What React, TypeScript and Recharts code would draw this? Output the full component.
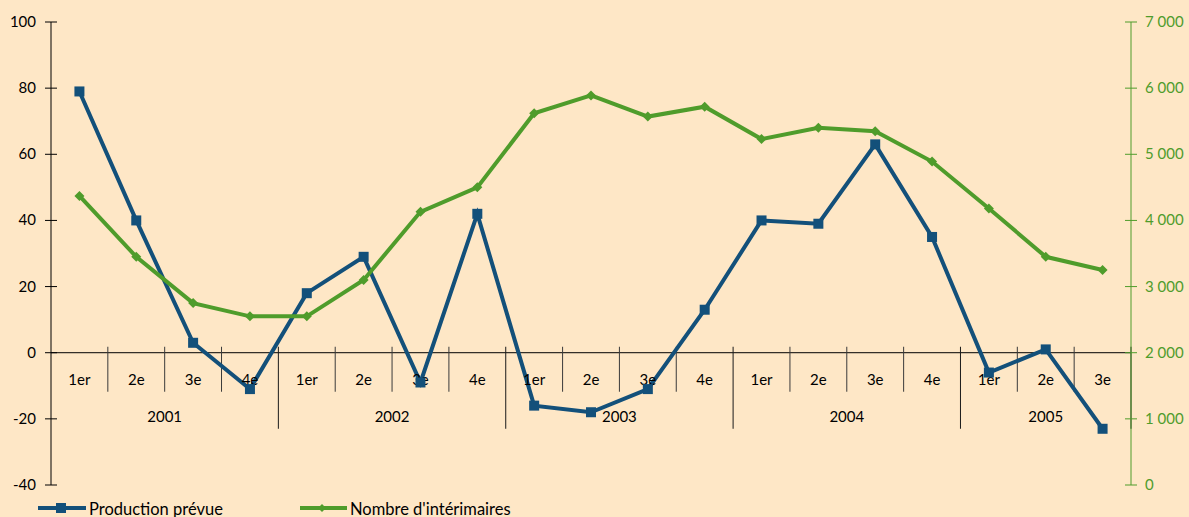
import React from 'react';
import { ComposedChart, Line, XAxis, YAxis, ReferenceLine, ReferenceDot, Legend } from 'recharts';

// trimestres 2001 T1 -> 2005 T3
const quarters = ['1er', '2e', '3e', '4e', '1er', '2e', '3e', '4e', '1er', '2e', '3e', '4e', '1er', '2e', '3e', '4e', '1er', '2e', '3e'];
const yearLabels = ['2001', '2002', '2003', '2004', '2005'];
const yearFirst = [0, 4, 8, 12, 16];
const yearLast = [3, 7, 11, 15, 18];

const production = [79, 40, 3, -11, 18, 29, -9, 42, -16, -18, -11, 13, 40, 39, 63, 35, -6, 1, -23];
const interimaires = [4370, 3450, 2750, 2550, 2550, 3100, 4130, 4500, 5620, 5890, 5570, 5720, 5230, 5400, 5350, 4890, 4180, 3450, 3250];

const leftTicks = [-40, -20, 0, 20, 40, 60, 80, 100];
const rightTicks = [0, 1000, 2000, 3000, 4000, 5000, 6000, 7000];

const BLUE = '#13507a';
const GREEN = '#4f9c2b';
const GREEN_TEXT = '#4f9c2c';
const BG = '#fee7c6';
const FONT = 'Lato, "DejaVu Sans", sans-serif';

const data = quarters.map((q, i) => ({
  idx: i,
  quarter: q,
  production: production[i],
  interimaires: interimaires[i],
}));

const fmtThousands = (v: number) => String(v).replace(/\B(?=(\d{3})+(?!\d))/g, ' ');

const LeftTick = (props: any) => {
  const { x, y, payload } = props;
  return (
    <g>
      <line x1={x + 9} x2={x + 21} y1={y} y2={y} stroke="#000" strokeWidth={1} />
      <text x={x} y={y} dy={5} textAnchor="end" fontFamily={FONT} fontSize={15} fill="#000">
        {payload.value}
      </text>
    </g>
  );
};

const RightTick = (props: any) => {
  const { x, y, payload } = props;
  return (
    <g>
      <line x1={x - 20} x2={x - 8} y1={y} y2={y} stroke={GREEN} strokeWidth={1} />
      <text x={x} y={y} dy={5} textAnchor="start" fontFamily={FONT} fontSize={15} fill={GREEN_TEXT}>
        {fmtThousands(payload.value)}
      </text>
    </g>
  );
};

const SquareDot = (props: any) => {
  const { cx, cy, index } = props;
  if (cx == null || cy == null) return <g key={index} />;
  return <rect key={index} x={cx - 5} y={cy - 5} width={10} height={10} fill={BLUE} />;
};

const DiamondDot = (props: any) => {
  const { cx, cy, index } = props;
  if (cx == null || cy == null) return <g key={index} />;
  return (
    <polygon
      key={index}
      points={`${cx},${cy - 5} ${cx + 5},${cy} ${cx},${cy + 5} ${cx - 5},${cy}`}
      fill={GREEN}
    />
  );
};

const textShape = (label: string) => (props: any) => (
  <text
    x={props.cx}
    y={props.cy}
    dy={5}
    textAnchor="middle"
    fontFamily={FONT}
    fontSize={15}
    fill="#000"
  >
    {label}
  </text>
);

const LegendContent = () => (
  <svg width={700} height={24} style={{ display: 'block' }}>
    <line x1={38} x2={86} y1={7} y2={7} stroke={BLUE} strokeWidth={4} />
    <rect x={56} y={2} width={10} height={10} fill={BLUE} />
    <text x={89} y={14} fontFamily={FONT} fontSize={16.5} fill="#000">Production prévue</text>
    <line x1={300} x2={347} y1={7} y2={7} stroke={GREEN} strokeWidth={4} />
    <polygon points="322,3 326,7 322,11 318,7" fill={GREEN} />
    <text x={350} y={14} fontFamily={FONT} fontSize={16.5} fill="#000">Nombre d'intérimaires</text>
  </svg>
);

// boundaries between quarters (x = i + 0.5)
const boundaries = quarters.map((_, i) => i + 0.5);
const yearBoundaries = yearLast.map((l) => l + 0.5);

export default function App() {
  return (
    <div
      style={{
        position: 'absolute',
        left: 0,
        top: 0,
        width: 1189,
        height: 517,
        overflow: 'hidden',
        background: BG,
        fontFamily: FONT,
      }}
    >
      <ComposedChart width={1189} height={517} data={data} margin={{ top: 22, right: 0, bottom: 8, left: 0 }}>
        <XAxis type="number" dataKey="idx" domain={[-0.5, 18.5]} hide />
        <YAxis
          yAxisId="left"
          domain={[-40, 100]}
          ticks={leftTicks}
          width={51}
          tickSize={6}
          tickMargin={9}
          tickLine={false}
          axisLine={{ stroke: '#000', strokeWidth: 1 }}
          tick={<LeftTick />}
          interval={0}
        />
        <YAxis
          yAxisId="right"
          orientation="right"
          domain={[0, 7000]}
          ticks={rightTicks}
          width={58}
          tickSize={6}
          tickMargin={8}
          tickLine={false}
          axisLine={{ stroke: GREEN, strokeWidth: 1 }}
          tick={<RightTick />}
          interval={0}
        />

        <ReferenceLine yAxisId="left" y={0} stroke="#000" strokeWidth={1} />

        {boundaries
          .filter((b) => !yearBoundaries.includes(b))
          .map((b) => (
            <ReferenceLine
              key={'q' + b}
              yAxisId="left"
              segment={[{ x: b, y: 1.8 }, { x: b, y: -11.8 }]}
              stroke="#3a3a3a"
              strokeWidth={1}
            />
          ))}
        {yearBoundaries.map((b) => (
          <ReferenceLine
            key={'y' + b}
            yAxisId="left"
            segment={[{ x: b, y: 1.8 }, { x: b, y: -23 }]}
            stroke="#1a1a1a"
            strokeWidth={1}
          />
        ))}

        {quarters.map((q, i) => (
          <ReferenceDot key={'ql' + i} yAxisId="left" x={i} y={-8.2} r={0} shape={textShape(q)} />
        ))}
        {yearLabels.map((yl, i) => (
          <ReferenceDot
            key={'yl' + i}
            yAxisId="left"
            x={(yearFirst[i] + yearLast[i]) / 2}
            y={-19.4}
            r={0}
            shape={textShape(yl)}
          />
        ))}

        <Line
          yAxisId="left"
          type="linear"
          dataKey="production"
          stroke={BLUE}
          strokeWidth={4}
          dot={<SquareDot />}
          activeDot={false}
          isAnimationActive={false}
          name="Production prévue"
        />
        <Line
          yAxisId="right"
          type="linear"
          dataKey="interimaires"
          stroke={GREEN}
          strokeWidth={4}
          dot={<DiamondDot />}
          activeDot={false}
          isAnimationActive={false}
          name="Nombre d'intérimaires"
        />
        <Legend
          verticalAlign="bottom"
          height={24}
          content={<LegendContent />}
          wrapperStyle={{ left: 0, bottom: -8, width: 700, height: 24 }}
        />
      </ComposedChart>
    </div>
  );
}
